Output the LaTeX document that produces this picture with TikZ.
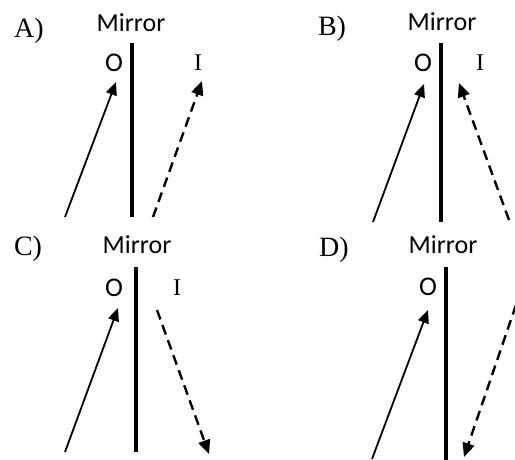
\documentclass[tikz,border=0pt]{standalone}
\usepackage{fontspec}
\setmainfont{Liberation Serif}
\newfontfamily\calib{Carlito}
\usetikzlibrary{arrows.meta}
\begin{document}
\begin{tikzpicture}[x=1pt,y=-1pt,
  panel/.style={font=\fontsize{28}{30}\selectfont, inner sep=0pt},
  mtext/.style={font=\calib\fontsize{26}{28}\selectfont, inner sep=0pt},
  otext/.style={font=\calib\fontsize{27}{28}\selectfont, inner sep=0pt},
  itext/.style={font=\fontsize{24}{26}\selectfont, inner sep=0pt},
  mirror/.style={line width=3.2pt},
  obj/.style={line width=1.8pt, -{Triangle[length=13pt,width=11pt]}},
  img/.style={line width=2.4pt, dash pattern=on 10pt off 6pt, -{Triangle[length=14pt,width=12pt]}}]
\useasboundingbox (0,0) rectangle (515,459);
\clip (0,0) rectangle (515,459);
% Panel A
\node[panel] (la) at (29,31) {A)};
\node[mtext] (ma) at (131,23) {Mirror};
\node[otext] (oa) at (114,63) {O};
\node[itext] (ia) at (198,63) {I};
\coordinate (mat) at (132,43); \coordinate (mab) at (132,217);
\draw[mirror] (mat) -- (mab);
\coordinate (sa1) at (65,217); \coordinate (sa2) at (116,82);
\draw[obj] (sa1) -- (sa2);
\coordinate (da1) at (153,217); \coordinate (da2) at (202,81);
\draw[img] (da1) -- (da2);
% Panel B
\node[panel] (lb) at (332,29) {B)};
\node[mtext] (mb) at (442,22) {Mirror};
\node[otext] (ob) at (423,63) {O};
\node[itext] (ib) at (480,63) {I};
\coordinate (mbt) at (441,43); \coordinate (mbb) at (441,222);
\draw[mirror] (mbt) -- (mbb);
\coordinate (sb1) at (373,222); \coordinate (sb2) at (424,84);
\draw[obj] (sb1) -- (sb2);
\coordinate (db1) at (509,220); \coordinate (db2) at (459,83);
\draw[img] (db1) -- (db2);
% Panel C
\node[panel] (lc) at (28,249) {C)};
\node[mtext] (mc) at (137,245) {Mirror};
\node[otext] (oc) at (114,288) {O};
\node[itext] (ic) at (177,288) {I};
\coordinate (mct) at (136,267); \coordinate (mcb) at (136,452);
\draw[mirror] (mct) -- (mcb);
\coordinate (sc1) at (65,452); \coordinate (sc2) at (118,308);
\draw[obj] (sc1) -- (sc2);
\coordinate (dc1) at (157,310); \coordinate (dc2) at (209,454);
\draw[img] (dc1) -- (dc2);
% Panel D
\node[panel] (ld) at (334,250) {D)};
\node[mtext] (md) at (443,245) {Mirror};
\node[otext] (od) at (428,287) {O};
\coordinate (mdt) at (446,267); \coordinate (mdb) at (446,462);
\draw[mirror] (mdt) -- (mdb);
\coordinate (sd1) at (372,459); \coordinate (sd2) at (428,310);
\draw[obj] (sd1) -- (sd2);
\coordinate (dd1) at (516,305); \coordinate (dd2) at (464,457);
\draw[img] (dd1) -- (dd2);
\end{tikzpicture}
\end{document}
